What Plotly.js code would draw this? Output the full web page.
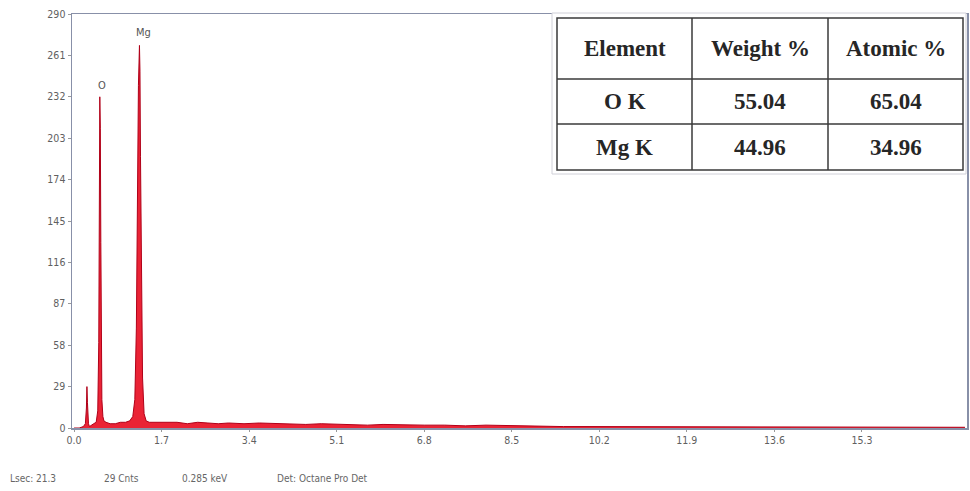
<!DOCTYPE html>
<html>
<head>
<meta charset="utf-8">
<script src="https://cdn.plot.ly/plotly-3.0.1.min.js"></script>
<style>html,body{margin:0;padding:0;background:#fff;}#chart{width:970px;height:491px;}</style>
</head>
<body>
<div id="chart"></div>
<script>
// ---- data ----
const energyKeV = [0.00,0.10,0.18,0.22,0.24,0.25,0.26,0.28,0.30,0.33,0.38,0.43,0.46,0.48,0.49,0.50,0.51,0.52,0.53,0.54,0.56,0.58,0.62,0.70,0.80,0.90,1.00,1.08,1.14,1.18,1.21,1.23,1.25,1.27,1.28,1.29,1.31,1.33,1.36,1.40,1.46,1.6,1.8,2.0,2.2,2.4,2.6,2.8,3.0,3.3,3.6,3.9,4.2,4.5,4.8,5.1,5.4,5.7,6.0,6.4,6.8,7.2,7.6,8.0,8.5,9.0,9.5,10.0,11.0,12.0,13.0,14.0,15.0,16.0,17.3];
const counts    = [0,0,1,3,14,29,18,3,1,2,3,4,12,60,150,232,210,130,60,20,8,5,4,3,3,4,4,5,8,20,70,170,240,268,250,190,90,35,10,5,4,4,3.5,4,3,4,3.5,3,3.5,3,3.5,3,3,2.5,3,2.5,2.5,2,2.5,2,2,2,1.5,2,1.5,1,1,1,1,0.8,0.8,0.7,0.6,0.5,0.5];

const xTickVals = [0,1.7,3.4,5.1,6.8,8.5,10.2,11.9,13.6,15.3];
const xTickText = ["0.0","1.7","3.4","5.1","6.8","8.5","10.2","11.9","13.6","15.3"];
const yTickVals = [0,29,58,87,116,145,174,203,232,261,290];
const yTickText = ["0","29","58","87","116","145","174","203","232","261","290"];

const peakNames  = ["O","Mg"];
const peakEnergy = [0.54,1.34];
const peakLabelY = [240,277];

const tableHeader = ["Element","Weight %","Atomic %"];
const tableElements = ["O K","Mg K"];
const weightPct = ["55.04","44.96"];
const atomicPct = ["65.04","34.96"];

const statusText = ["Lsec: 21.3","29 Cnts","0.285 keV","Det: Octane Pro Det"];

// ---- pixel helpers for layout (plot area 72..967 x 14..428) ----
const L=72, R=967, T=14, B=428;
const xp = px => (px-L)/(R-L);
const yp = py => (B-py)/(B-T);

const shapes = [];
const annotations = [];

// table
const colX = [557,692,828,963];
const rowY = [18,79,124,170];
shapes.push({type:'rect',xref:'paper',yref:'paper',x0:xp(552),x1:xp(966),y0:yp(174),y1:yp(13),line:{color:'#d0d0d8',width:1},fillcolor:'#ffffff',layer:'above'});
shapes.push({type:'rect',xref:'paper',yref:'paper',x0:xp(colX[0]),x1:xp(colX[3]),y0:yp(rowY[3]),y1:yp(rowY[0]),line:{color:'#3a3a3a',width:1.5},layer:'above'});
[colX[1],colX[2]].forEach(x=>shapes.push({type:'line',xref:'paper',yref:'paper',x0:xp(x),x1:xp(x),y0:yp(rowY[3]),y1:yp(rowY[0]),line:{color:'#3a3a3a',width:1.5},layer:'above'}));
[rowY[1],rowY[2]].forEach(y=>shapes.push({type:'line',xref:'paper',yref:'paper',x0:xp(colX[0]),x1:xp(colX[3]),y0:yp(y),y1:yp(y),line:{color:'#3a3a3a',width:1.5},layer:'above'}));

const tFont = {family:'Liberation Serif, Times New Roman, serif',size:23,color:'#262626'};
function cell(text,c,r){
  annotations.push({xref:'paper',yref:'paper',x:xp((colX[c]+colX[c+1])/2),y:yp((rowY[r]+rowY[r+1])/2),
    text:'<b>'+text+'</b>',showarrow:false,xanchor:'center',yanchor:'middle',font:tFont});
}
tableHeader.forEach((h,i)=>cell(h,i,0));
tableElements.forEach((e,i)=>{cell(e,0,i+1);cell(weightPct[i],1,i+1);cell(atomicPct[i],2,i+1);});

// peak labels
peakNames.forEach((n,i)=>annotations.push({x:peakEnergy[i],y:peakLabelY[i],xref:'x',yref:'y',text:n,showarrow:false,
  font:{family:'DejaVu Sans Condensed, DejaVu Sans, sans-serif',size:11,color:'#555'}}));

// status line
const statusX = [8,102,180,275];
statusText.forEach((s,i)=>annotations.push({xref:'paper',yref:'paper',x:xp(statusX[i]),y:yp(478),text:s,showarrow:false,
  xanchor:'left',yanchor:'middle',font:{family:'DejaVu Sans Condensed, DejaVu Sans, sans-serif',size:10,color:'#666'}}));

const trace = {
  x: energyKeV, y: counts, type:'scatter', mode:'lines',
  line:{color:'#b00018',width:1}, fill:'tozeroy', fillcolor:'rgba(232,16,36,0.92)',
  hoverinfo:'skip'
};

const tickFont = {family:'DejaVu Sans Condensed, DejaVu Sans, sans-serif',size:10.5,color:'#606060'};
const layout = {
  width:970,height:491,
  margin:{l:L,r:970-R,t:T,b:491-B,pad:0},
  paper_bgcolor:'#ffffff',plot_bgcolor:'#ffffff',
  showlegend:false,
  xaxis:{range:[-0.04,17.34],tickmode:'array',tickvals:xTickVals,ticktext:xTickText,tickfont:tickFont,
    showgrid:false,zeroline:false,showline:true,mirror:true,linecolor:'#8890a8',linewidth:1.5,
    ticks:'outside',ticklen:2,tickcolor:'#999',fixedrange:true},
  yaxis:{range:[0,290],tickmode:'array',tickvals:yTickVals,ticktext:yTickText,tickfont:tickFont,
    showgrid:false,zeroline:false,showline:true,mirror:true,linecolor:'#8890a8',linewidth:1.5,
    ticks:'outside',ticklen:3,tickcolor:'#999',fixedrange:true},
  shapes:shapes,
  annotations:annotations
};

Plotly.newPlot('chart',[trace],layout,{displayModeBar:false,staticPlot:true});
</script>
</body>
</html>
